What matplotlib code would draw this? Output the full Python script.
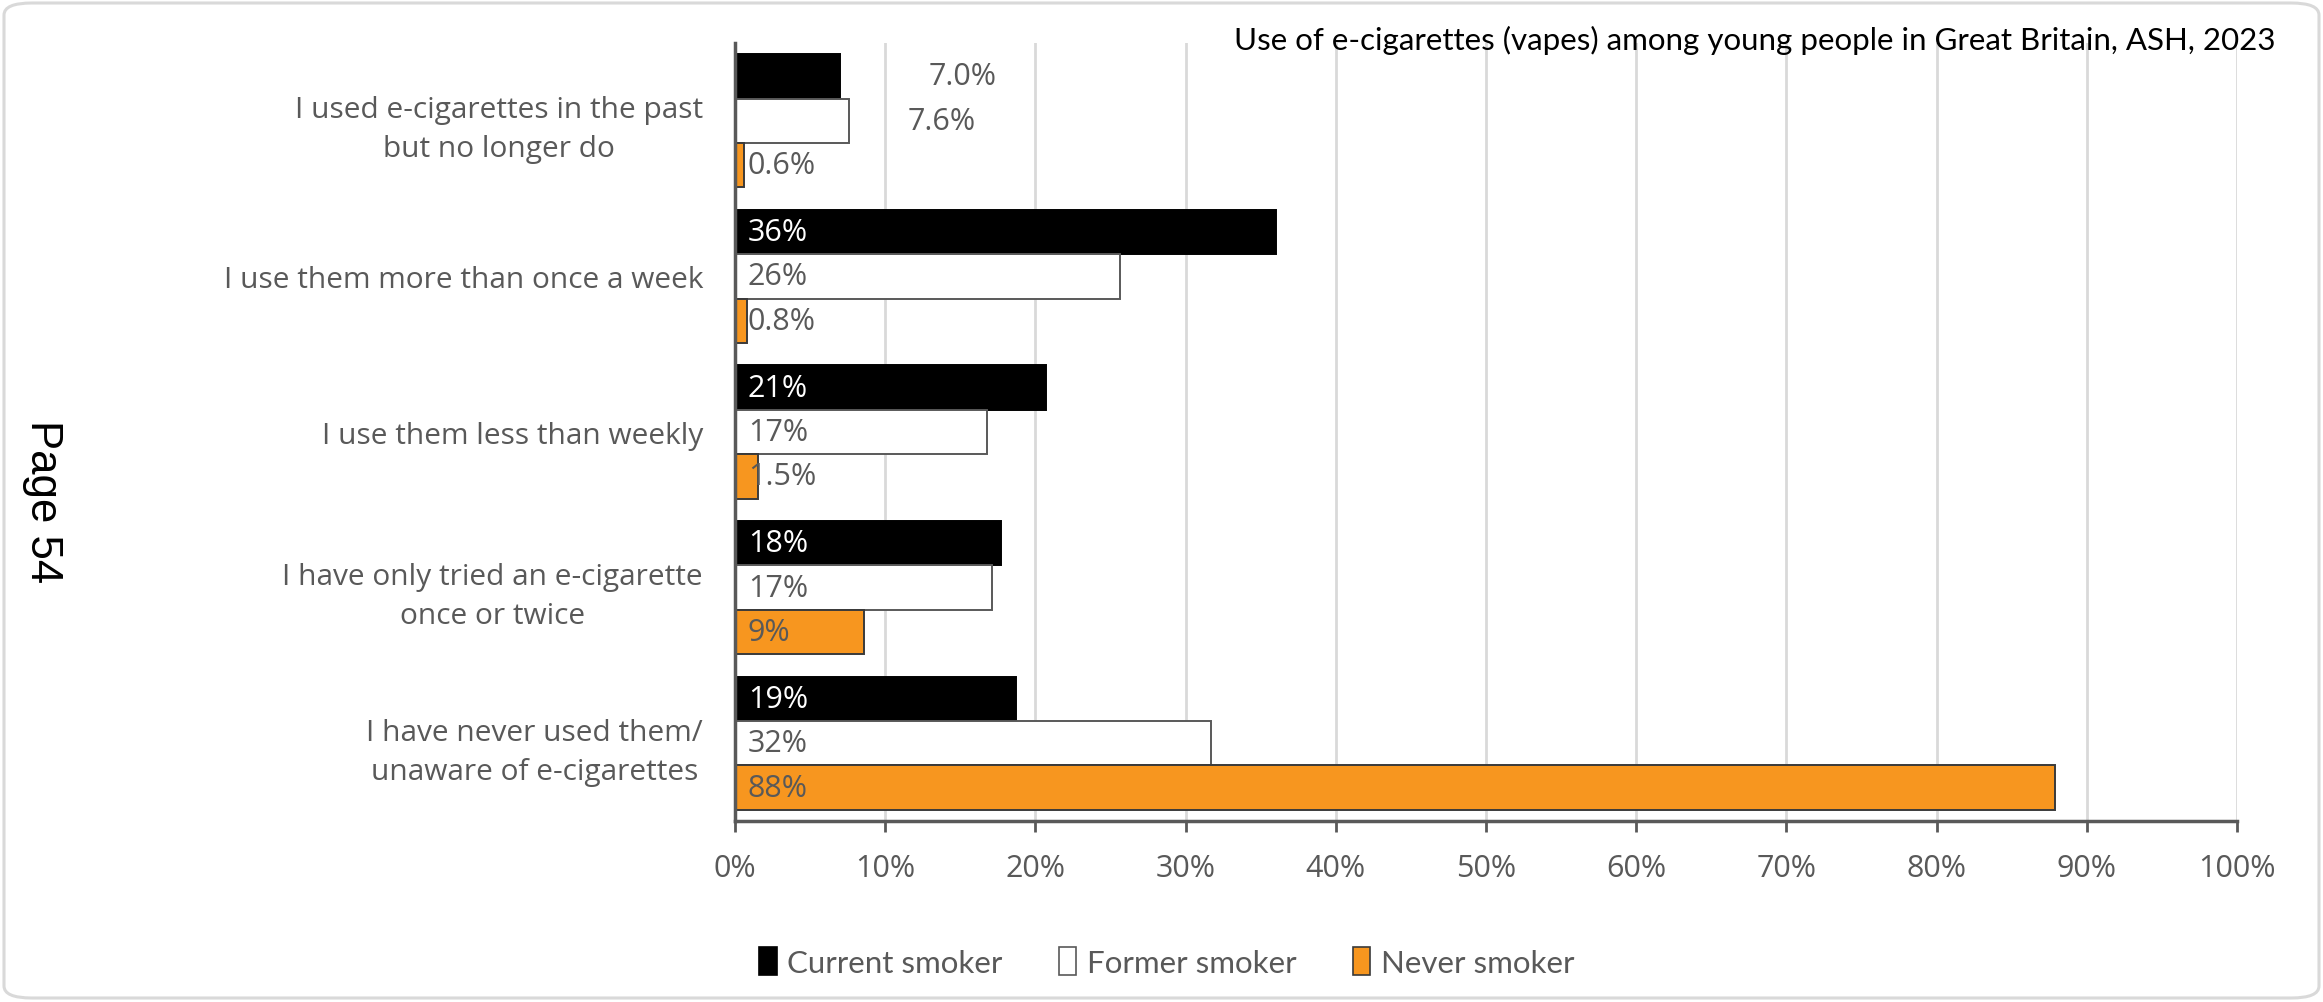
import matplotlib
matplotlib.use("Agg")
import matplotlib.pyplot as plt
from matplotlib.patches import FancyBboxPatch, Patch
import numpy as np

# ---- data ----
categories = [
    "I used e-cigarettes in the past\nbut no longer do",
    "I use them more than once a week",
    "I use them less than weekly",
    "I have only tried an e-cigarette\nonce or twice",
    "I have never used them/\nunaware of e-cigarettes",
]
series_names = ["Current smoker", "Former smoker", "Never smoker"]
current_vals = [7.0, 36.0, 20.7, 17.7, 18.7]
former_vals = [7.6, 25.6, 16.8, 17.1, 31.7]
never_vals = [0.6, 0.8, 1.5, 8.6, 87.9]
current_labels = ["7.0%", "36%", "21%", "18%", "19%"]
former_labels = ["7.6%", "26%", "17%", "17%", "32%"]
never_labels = ["0.6%", "0.8%", "1.5%", "9%", "88%"]
x_ticks = [0, 10, 20, 30, 40, 50, 60, 70, 80, 90, 100]
x_tick_labels = ["0%", "10%", "20%", "30%", "40%", "50%", "60%", "70%", "80%", "90%", "100%"]
title = "Use of e-cigarettes (vapes) among young people in Great Britain, ASH, 2023"
page_text = "Page 54"

# ---- style ----
W, H, DPI = 2323, 1003, 100
fig = plt.figure(figsize=(W / DPI, H / DPI), dpi=DPI)
fig.patch.set_facecolor("white")

# rounded border
border = FancyBboxPatch((4 / W, 4 / H), (W - 8) / W, (H - 8) / H,
                        boxstyle="round,pad=0,rounding_size=0.012",
                        transform=fig.transFigure, facecolor="none",
                        edgecolor="#d9d9d9", linewidth=2.2, zorder=-1)
fig.patches.append(border)

ax = fig.add_axes([735 / W, 1 - 822 / H, (2237 - 735) / W, (822 - 44) / H])
ax.set_facecolor("none")

TXT = "#595959"
ORANGE = "#F7961F"
label_font = "Open Sans"

y = np.arange(len(categories))
h = 0.285
series = [
    (current_vals, current_labels, "black", "black", "white"),
    (former_vals, former_labels, "white", "#595959", TXT),
    (never_vals, never_labels, ORANGE, "#3a3a3a", TXT),
]
offsets = [-h, 0.0, h]
# manual label positions (x in data units) for labels moved off the bar
moved = {(0, 0): 12.9, (1, 0): 11.5}

for si, ((vals, labs, fc, ec, tc), off) in enumerate(zip(series, offsets)):
    ax.barh(y + off, vals, height=h, color=fc, edgecolor=ec, linewidth=1.4,
            label=series_names[si], zorder=3)
    for ci, (v, lab) in enumerate(zip(vals, labs)):
        xpos = moved.get((si, ci), 0.85)
        col = tc if (si, ci) not in moved else TXT
        ax.text(xpos, y[ci] + off, lab, ha="left", va="center",
                color=col, fontsize=22, family=label_font, zorder=4)

ax.set_xlim(0, 100)
ax.set_ylim(len(categories) - 0.5, -0.5)
ax.set_xticks(x_ticks)
ax.set_xticklabels(x_tick_labels)
ax.set_yticks(y)
ax.set_yticklabels(categories, multialignment="center", linespacing=1.45)
for t in ax.get_yticklabels():
    t.set_family(label_font)
    t.set_fontsize(21.5)
    t.set_color(TXT)
for t in ax.get_xticklabels():
    t.set_family(label_font)
    t.set_fontsize(22)
    t.set_color(TXT)
ax.tick_params(axis="y", length=0, pad=23)
ax.tick_params(axis="x", direction="out", length=8, width=2, color="#595959", pad=15)
ax.xaxis.grid(True, color="#d9d9d9", linewidth=2, zorder=0)
ax.set_axisbelow(True)
for s in ["top", "right"]:
    ax.spines[s].set_visible(False)
ax.spines["left"].set_color("#595959")
ax.spines["left"].set_linewidth(2.5)
ax.spines["bottom"].set_color("#595959")
ax.spines["bottom"].set_linewidth(2.5)
ax.spines["left"].set_zorder(5)

# title
fig.text(2275 / W, 1 - 40 / H, title, ha="right", va="center",
         fontsize=22.5, family="Lato", color="black")

# page marker
fig.text(42 / W, 1 - 502 / H, page_text, rotation=270, ha="center", va="center",
         fontsize=31.5, family="Liberation Sans", color="black")

# legend
handles = [Patch(facecolor=fc, edgecolor=ec, linewidth=1.2) for (_, _, fc, ec, _) in series]
leg = fig.legend(handles, series_names, loc="center", bbox_to_anchor=(1167 / W, 1 - 963 / H),
                 ncol=3, frameon=False, handlelength=0.55, handleheight=1.0,
                 handletextpad=0.35, columnspacing=1.8,
                 prop={"family": "Lato", "size": 22.5})
for t in leg.get_texts():
    t.set_color(TXT)

fig.savefig("out.png", dpi=DPI, facecolor="white")
